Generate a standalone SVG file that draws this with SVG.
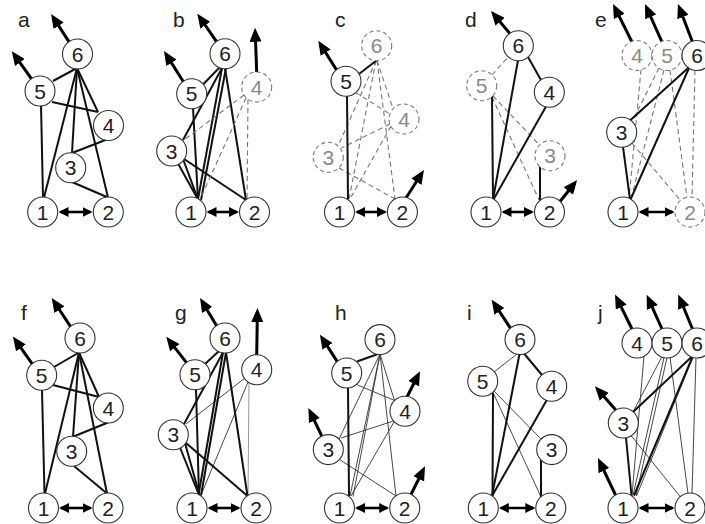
<svg xmlns="http://www.w3.org/2000/svg" width="705" height="524" viewBox="0 0 705 524">
<style>
.k{stroke:#111;stroke-width:2;fill:none}
.t{stroke:#333;stroke-width:0.9;fill:none}
.d{stroke:#777;stroke-width:1.1;stroke-dasharray:5 3.5;fill:none}
.gr{stroke:#999;stroke-width:1;fill:none}
.ar{stroke:#000;stroke-width:3;marker-end:url(#ah)}
.db{stroke:#000;stroke-width:2.6;marker-start:url(#dh);marker-end:url(#dh)}
.n circle{fill:#fff;stroke:#333;stroke-width:1.1}
.n text{font-family:"Liberation Sans",Arial,sans-serif;font-size:21px;fill:#222;text-anchor:middle}
.nd circle{fill:#fff;stroke:#777;stroke-width:1.1;stroke-dasharray:4 3}
.nd text{font-family:"Liberation Sans",Arial,sans-serif;font-size:21px;fill:#8a8a8a;text-anchor:middle}
.lab{font-family:"Liberation Sans",Arial,sans-serif;font-size:21px;fill:#222}
</style>
<defs>
<marker id="ah" viewBox="0 0 14 12" refX="10" refY="6" markerWidth="14" markerHeight="12" markerUnits="userSpaceOnUse" orient="auto"><path d="M0,0 L14,6 L0,12 z" fill="#000"/></marker>
<marker id="dh" viewBox="0 0 10 10" refX="8" refY="5" markerWidth="10" markerHeight="10" markerUnits="userSpaceOnUse" orient="auto-start-reverse"><path d="M0,0 L10,5 L0,10 z" fill="#000"/></marker>
</defs>
<rect width="705" height="524" fill="#fff"/>

<!-- Panel a -->
<g id="panel-a">
<text class="lab" x="18" y="27">a</text>
<g id="a-edges">
<line class="k" x1="77" y1="68" x2="53" y2="81"/>
<line class="k" x1="77" y1="68" x2="44" y2="197.5"/>
<line class="k" x1="77" y1="68" x2="72" y2="153"/>
<line class="k" x1="77" y1="68" x2="98" y2="112"/>
<line class="k" x1="77" y1="68" x2="108" y2="197.5"/>
<line class="k" x1="52" y1="102" x2="98" y2="112"/>
<line class="k" x1="41" y1="105" x2="43" y2="197.5"/>
<line class="k" x1="72" y1="153" x2="108" y2="139"/>
<line class="k" x1="72" y1="182" x2="108" y2="197.5"/>
<line class="ar" x1="69.2" y1="42.1" x2="53.2" y2="17.4"/>
<line class="ar" x1="31.7" y1="79.1" x2="14.1" y2="54.4"/>
<line class="db" x1="60.5" y1="212" x2="90.5" y2="212"/>
</g>
<g id="a-n6" class="n"><circle cx="77.5" cy="54" r="15"/><text x="77.5" y="61.5">6</text></g>
<g id="a-n5" class="n"><circle cx="40" cy="91" r="15"/><text x="40" y="98.5">5</text></g>
<g id="a-n4" class="n"><circle cx="108.5" cy="125.5" r="15"/><text x="108.5" y="133">4</text></g>
<g id="a-n3" class="n"><circle cx="70.7" cy="167.7" r="15"/><text x="70.7" y="175.2">3</text></g>
<g id="a-n1" class="n"><circle cx="42.7" cy="212" r="15"/><text x="42.7" y="219.5">1</text></g>
<g id="a-n2" class="n"><circle cx="108.3" cy="212" r="15"/><text x="108.3" y="219.5">2</text></g>
</g>

<!-- Panel b -->
<g id="panel-b">
<text class="lab" x="173" y="27">b</text>
<g id="b-edges">
<line class="k" x1="220" y1="67" x2="203.5" y2="84"/>
<line class="k" x1="222" y1="68" x2="183" y2="140"/>
<line class="k" x1="222" y1="68" x2="198" y2="199"/>
<line class="k" x1="226" y1="68" x2="201" y2="200"/>
<line class="k" x1="225" y1="68" x2="246" y2="200"/>
<line class="k" x1="193" y1="108" x2="198" y2="199.4"/>
<line class="k" x1="178" y1="163.5" x2="198" y2="199.4"/>
<line class="k" x1="183" y1="159" x2="198" y2="199.4"/>
<line class="k" x1="184" y1="159" x2="246" y2="200"/>
<line class="d" x1="244" y1="95" x2="184" y2="140"/>
<line class="d" x1="246" y1="98" x2="200" y2="199.5"/>
<line class="d" x1="248" y1="99.5" x2="247" y2="200"/>
<line class="ar" x1="216.7" y1="41.8" x2="199.6" y2="17"/>
<line class="ar" x1="183.4" y1="81.8" x2="166.1" y2="54.4"/>
<line class="ar" x1="256.7" y1="72" x2="255.2" y2="31.7"/>
<line class="db" x1="208.5" y1="212" x2="237" y2="212"/>
</g>
<g id="b-n6" class="n"><circle cx="225" cy="53.7" r="15"/><text x="225" y="61.2">6</text></g>
<g id="b-n5" class="n"><circle cx="191.7" cy="93.7" r="15"/><text x="191.7" y="101.2">5</text></g>
<g id="b-n4" class="nd"><circle cx="256.7" cy="87" r="15"/><text x="256.7" y="94.5">4</text></g>
<g id="b-n3" class="n"><circle cx="171.7" cy="151" r="15"/><text x="171.7" y="158.5">3</text></g>
<g id="b-n1" class="n"><circle cx="191" cy="212" r="15"/><text x="191" y="219.5">1</text></g>
<g id="b-n2" class="n"><circle cx="254.5" cy="212" r="15"/><text x="254.5" y="219.5">2</text></g>
</g>

<!-- Panel c -->
<g id="panel-c">
<text class="lab" x="335" y="27">c</text>
<g id="c-edges">
<line class="d" x1="377" y1="60.5" x2="393" y2="108.5"/>
<line class="d" x1="376" y1="60.5" x2="339" y2="144"/>
<line class="d" x1="376" y1="60.5" x2="349" y2="199"/>
<line class="d" x1="377" y1="60.5" x2="395" y2="199"/>
<line class="d" x1="355.5" y1="92.5" x2="390" y2="114"/>
<line class="d" x1="390" y1="124" x2="341.5" y2="148"/>
<line class="d" x1="391" y1="126" x2="350" y2="199"/>
<line class="d" x1="339" y1="168" x2="395" y2="199"/>
<line class="k" x1="359" y1="74" x2="376.7" y2="60.2"/>
<line class="k" x1="347" y1="95.8" x2="348" y2="199.5"/>
<line class="ar" x1="336.7" y1="70.2" x2="320.4" y2="44.1"/>
<line class="ar" x1="406" y1="198" x2="421.8" y2="173.3"/>
<line class="db" x1="357" y1="212" x2="384.9" y2="212"/>
</g>
<g id="c-n6" class="nd"><circle cx="376.7" cy="45.7" r="15"/><text x="376.7" y="53.2">6</text></g>
<g id="c-n5" class="n"><circle cx="346" cy="81.3" r="15"/><text x="346" y="88.8">5</text></g>
<g id="c-n4" class="nd"><circle cx="404" cy="119" r="15"/><text x="404" y="126.5">4</text></g>
<g id="c-n3" class="nd"><circle cx="328.3" cy="157.3" r="15"/><text x="328.3" y="164.8">3</text></g>
<g id="c-n1" class="n"><circle cx="339.5" cy="212" r="15"/><text x="339.5" y="219.5">1</text></g>
<g id="c-n2" class="n"><circle cx="402.4" cy="212" r="15"/><text x="402.4" y="219.5">2</text></g>
</g>

<!-- Panel d -->
<g id="panel-d">
<text class="lab" x="465" y="27">d</text>
<g id="d-edges">
<line class="d" x1="492" y1="75" x2="508" y2="57"/>
<line class="d" x1="493" y1="96" x2="540" y2="145.5"/>
<line class="d" x1="492" y1="97" x2="539" y2="200"/>
<line class="k" x1="518" y1="60.2" x2="493" y2="199.5"/>
<line class="k" x1="528" y1="57" x2="541" y2="80"/>
<line class="k" x1="546" y1="106.5" x2="493.5" y2="199.5"/>
<line class="k" x1="492" y1="96" x2="493" y2="199.5"/>
<line class="k" x1="540" y1="166" x2="540" y2="200.5"/>
<line class="ar" x1="509.7" y1="33.4" x2="493.6" y2="14.1"/>
<line class="ar" x1="560" y1="201.5" x2="574.6" y2="183.2"/>
<line class="db" x1="503.5" y1="212" x2="532" y2="212"/>
</g>
<g id="d-n6" class="n"><circle cx="518.3" cy="45.7" r="15"/><text x="518.3" y="53.2">6</text></g>
<g id="d-n5" class="nd"><circle cx="481.7" cy="85.7" r="15"/><text x="481.7" y="93.2">5</text></g>
<g id="d-n4" class="n"><circle cx="549.3" cy="92.3" r="15"/><text x="549.3" y="99.8">4</text></g>
<g id="d-n3" class="nd"><circle cx="550" cy="155.7" r="15"/><text x="550" y="163.2">3</text></g>
<g id="d-n1" class="n"><circle cx="486" cy="212" r="15"/><text x="486" y="219.5">1</text></g>
<g id="d-n2" class="n"><circle cx="549.5" cy="212" r="15"/><text x="549.5" y="219.5">2</text></g>
</g>

<!-- Panel e -->
<g id="panel-e">
<text class="lab" x="595" y="27">e</text>
<g id="e-edges">
<line class="d" x1="695" y1="70" x2="692" y2="197.5"/>
<line class="d" x1="641" y1="69.5" x2="629" y2="199"/>
<line class="d" x1="659" y1="68" x2="632" y2="122"/>
<line class="d" x1="664" y1="70" x2="631" y2="199"/>
<line class="d" x1="670" y1="70" x2="687" y2="197.5"/>
<line class="d" x1="632" y1="143" x2="680.5" y2="200.5"/>
<line class="k" x1="688.7" y1="67.4" x2="630" y2="120.4"/>
<line class="k" x1="689" y1="68" x2="630.5" y2="199.5"/>
<line class="k" x1="623" y1="146.8" x2="630" y2="199.5"/>
<line class="ar" x1="632" y1="42" x2="614.8" y2="7.6"/>
<line class="ar" x1="662" y1="42" x2="646.6" y2="7.7"/>
<line class="ar" x1="692.5" y1="42" x2="679.4" y2="7.7"/>
<line class="db" x1="640.5" y1="212" x2="672.5" y2="212"/>
</g>
<g id="e-n4" class="nd"><circle cx="637" cy="55.5" r="15"/><text x="637" y="63">4</text></g>
<g id="e-n5" class="nd"><circle cx="667" cy="55.5" r="15"/><text x="667" y="63">5</text></g>
<g id="e-n6" class="n"><circle cx="697" cy="55.5" r="15"/><text x="697" y="63">6</text></g>
<g id="e-n3" class="n"><circle cx="621.7" cy="132.3" r="15"/><text x="621.7" y="139.8">3</text></g>
<g id="e-n1" class="n"><circle cx="623" cy="212" r="15"/><text x="623" y="219.5">1</text></g>
<g id="e-n2" class="nd"><circle cx="690" cy="212" r="15"/><text x="690" y="219.5">2</text></g>
</g>

<!-- Panel f -->
<g id="panel-f">
<text class="lab" x="21" y="320">f</text>
<g id="f-edges">
<line class="k" x1="79" y1="352.5" x2="54" y2="367"/>
<line class="k" x1="79" y1="352.5" x2="45" y2="493.5"/>
<line class="k" x1="42" y1="390" x2="44.5" y2="493.5"/>
<line class="k" x1="79" y1="352.5" x2="73" y2="436.8"/>
<line class="k" x1="79" y1="352.5" x2="99" y2="397"/>
<line class="k" x1="79" y1="352.5" x2="107" y2="493.5"/>
<line class="k" x1="53" y1="385" x2="99" y2="397"/>
<line class="k" x1="73" y1="436.8" x2="108" y2="422.5"/>
<line class="k" x1="74" y1="466" x2="107" y2="493.5"/>
<line class="ar" x1="70.7" y1="326.9" x2="53.9" y2="301.3"/>
<line class="ar" x1="32.4" y1="364.2" x2="15.2" y2="339.8"/>
<line class="db" x1="61" y1="508" x2="90.5" y2="508"/>
</g>
<g id="f-n6" class="n"><circle cx="80" cy="338" r="15"/><text x="80" y="345.5">6</text></g>
<g id="f-n5" class="n"><circle cx="41.7" cy="375.3" r="15"/><text x="41.7" y="382.8">5</text></g>
<g id="f-n4" class="n"><circle cx="108.3" cy="408" r="15"/><text x="108.3" y="415.5">4</text></g>
<g id="f-n3" class="n"><circle cx="71.7" cy="451.3" r="15"/><text x="71.7" y="458.8">3</text></g>
<g id="f-n1" class="n"><circle cx="43.5" cy="508" r="15"/><text x="43.5" y="515.5">1</text></g>
<g id="f-n2" class="n"><circle cx="108" cy="508" r="15"/><text x="108" y="515.5">2</text></g>
</g>

<!-- Panel g -->
<g id="panel-g">
<text class="lab" x="175" y="320">g</text>
<g id="g-edges">
<line class="t" x1="245" y1="378" x2="186" y2="424"/>
<line class="t" x1="248" y1="382" x2="201" y2="495"/>
<line class="gr" x1="249" y1="383" x2="248" y2="496"/>
<line class="k" x1="219" y1="351" x2="205" y2="364"/>
<line class="k" x1="223" y1="352.5" x2="184" y2="424"/>
<line class="k" x1="223" y1="352.5" x2="198.5" y2="495"/>
<line class="k" x1="226" y1="352.5" x2="201" y2="495.5"/>
<line class="k" x1="226" y1="352.5" x2="247.5" y2="496"/>
<line class="k" x1="196" y1="389" x2="199" y2="495"/>
<line class="k" x1="180" y1="447.5" x2="199" y2="495"/>
<line class="k" x1="185" y1="443" x2="199.5" y2="495"/>
<line class="k" x1="186" y1="443" x2="247.5" y2="496"/>
<line class="ar" x1="216.7" y1="326.1" x2="202.1" y2="301.4"/>
<line class="ar" x1="186.7" y1="362.8" x2="168.7" y2="339.8"/>
<line class="ar" x1="256.7" y1="355" x2="257.4" y2="312"/>
<line class="db" x1="209.5" y1="508" x2="238.5" y2="508"/>
</g>
<g id="g-n6" class="n"><circle cx="225" cy="338" r="15"/><text x="225" y="345.5">6</text></g>
<g id="g-n5" class="n"><circle cx="195" cy="374.7" r="15"/><text x="195" y="382.2">5</text></g>
<g id="g-n4" class="n"><circle cx="256.7" cy="369.7" r="15"/><text x="256.7" y="377.2">4</text></g>
<g id="g-n3" class="n"><circle cx="173.3" cy="434.7" r="15"/><text x="173.3" y="442.2">3</text></g>
<g id="g-n1" class="n"><circle cx="192" cy="508" r="15"/><text x="192" y="515.5">1</text></g>
<g id="g-n2" class="n"><circle cx="256" cy="508" r="15"/><text x="256" y="515.5">2</text></g>
</g>

<!-- Panel h -->
<g id="panel-h">
<text class="lab" x="335" y="320">h</text>
<g id="h-edges">
<line class="t" x1="380" y1="354.1" x2="339" y2="439"/>
<line class="t" x1="380" y1="354.1" x2="350" y2="496"/>
<line class="t" x1="380" y1="354.1" x2="353" y2="496.5"/>
<line class="t" x1="380" y1="354.1" x2="394.5" y2="400.5"/>
<line class="t" x1="380" y1="354.1" x2="396" y2="496"/>
<line class="t" x1="356.5" y1="384.5" x2="394.5" y2="400.5"/>
<line class="t" x1="393.5" y1="421" x2="341" y2="438"/>
<line class="t" x1="394" y1="422" x2="351" y2="496"/>
<line class="t" x1="339.5" y1="459.5" x2="396" y2="496"/>
<line class="k" x1="357" y1="361.5" x2="378" y2="354"/>
<line class="k" x1="348" y1="387" x2="349" y2="496"/>
<line class="ar" x1="337.4" y1="361.9" x2="322.1" y2="338"/>
<line class="ar" x1="407" y1="397" x2="418.2" y2="374.8"/>
<line class="ar" x1="322" y1="436.5" x2="310.1" y2="411.6"/>
<line class="ar" x1="411" y1="494.5" x2="423.2" y2="469.9"/>
<line class="db" x1="357" y1="508" x2="387.2" y2="508"/>
</g>
<g id="h-n6" class="n"><circle cx="380" cy="339.6" r="15"/><text x="380" y="347.1">6</text></g>
<g id="h-n5" class="n"><circle cx="346.7" cy="373" r="15"/><text x="346.7" y="380.5">5</text></g>
<g id="h-n4" class="n"><circle cx="405" cy="411.3" r="15"/><text x="405" y="418.8">4</text></g>
<g id="h-n3" class="n"><circle cx="328.3" cy="449.6" r="15"/><text x="328.3" y="457.1">3</text></g>
<g id="h-n1" class="n"><circle cx="339.5" cy="508" r="15"/><text x="339.5" y="515.5">1</text></g>
<g id="h-n2" class="n"><circle cx="404.7" cy="508" r="15"/><text x="404.7" y="515.5">2</text></g>
</g>

<!-- Panel i -->
<g id="panel-i">
<text class="lab" x="467" y="320">i</text>
<g id="i-edges">
<line class="t" x1="517" y1="354" x2="494" y2="372"/>
<line class="t" x1="494" y1="391" x2="541" y2="439"/>
<line class="t" x1="493.5" y1="393.5" x2="541" y2="497"/>
<line class="k" x1="519.5" y1="354" x2="492" y2="496"/>
<line class="k" x1="524" y1="353.5" x2="542" y2="375"/>
<line class="k" x1="546.5" y1="400.5" x2="492" y2="496"/>
<line class="k" x1="493" y1="392.5" x2="492.5" y2="496"/>
<line class="k" x1="541" y1="460" x2="541" y2="497"/>
<line class="ar" x1="510.4" y1="328.1" x2="493.9" y2="303"/>
<line class="db" x1="500.8" y1="508" x2="533.3" y2="508"/>
</g>
<g id="i-n6" class="n"><circle cx="520" cy="339.6" r="15"/><text x="520" y="347.1">6</text></g>
<g id="i-n5" class="n"><circle cx="482.7" cy="381.3" r="15"/><text x="482.7" y="388.8">5</text></g>
<g id="i-n4" class="n"><circle cx="551.7" cy="386.3" r="15"/><text x="551.7" y="393.8">4</text></g>
<g id="i-n3" class="n"><circle cx="551.7" cy="449.6" r="15"/><text x="551.7" y="457.1">3</text></g>
<g id="i-n1" class="n"><circle cx="483.3" cy="508" r="15"/><text x="483.3" y="515.5">1</text></g>
<g id="i-n2" class="n"><circle cx="550.8" cy="508" r="15"/><text x="550.8" y="515.5">2</text></g>
</g>

<!-- Panel j -->
<g id="panel-j">
<text class="lab" x="598" y="320">j</text>
<g id="j-edges">
<line class="t" x1="644" y1="356" x2="632" y2="495.5"/>
<line class="t" x1="662" y1="356.5" x2="633" y2="412"/>
<line class="t" x1="664" y1="357.5" x2="633" y2="495.5"/>
<line class="t" x1="667" y1="357.5" x2="636" y2="496"/>
<line class="t" x1="670" y1="357" x2="688" y2="493.5"/>
<line class="t" x1="693" y1="357" x2="636.5" y2="496"/>
<line class="t" x1="696" y1="357.5" x2="692" y2="493.5"/>
<line class="t" x1="631" y1="435.5" x2="680.5" y2="497"/>
<line class="k" x1="692" y1="356.5" x2="633" y2="412"/>
<line class="k" x1="692.5" y1="357" x2="634" y2="495.5"/>
<line class="k" x1="626" y1="437.5" x2="631.5" y2="495.5"/>
<line class="ar" x1="632" y1="329" x2="616.8" y2="298.2"/>
<line class="ar" x1="662" y1="329" x2="648.3" y2="298.3"/>
<line class="ar" x1="692.5" y1="329" x2="679.8" y2="298.3"/>
<line class="ar" x1="615.8" y1="410" x2="597.6" y2="389.3"/>
<line class="ar" x1="615.5" y1="495" x2="599.7" y2="461.6"/>
<line class="db" x1="640.5" y1="508" x2="672.5" y2="508"/>
</g>
<g id="j-n4" class="n"><circle cx="637" cy="343" r="15"/><text x="637" y="350.5">4</text></g>
<g id="j-n5" class="n"><circle cx="667" cy="343" r="15"/><text x="667" y="350.5">5</text></g>
<g id="j-n6" class="n"><circle cx="697" cy="343" r="15"/><text x="697" y="350.5">6</text></g>
<g id="j-n3" class="n"><circle cx="623.3" cy="423" r="15"/><text x="623.3" y="430.5">3</text></g>
<g id="j-n1" class="n"><circle cx="623" cy="508" r="15"/><text x="623" y="515.5">1</text></g>
<g id="j-n2" class="n"><circle cx="690" cy="508" r="15"/><text x="690" y="515.5">2</text></g>
</g>
</svg>
